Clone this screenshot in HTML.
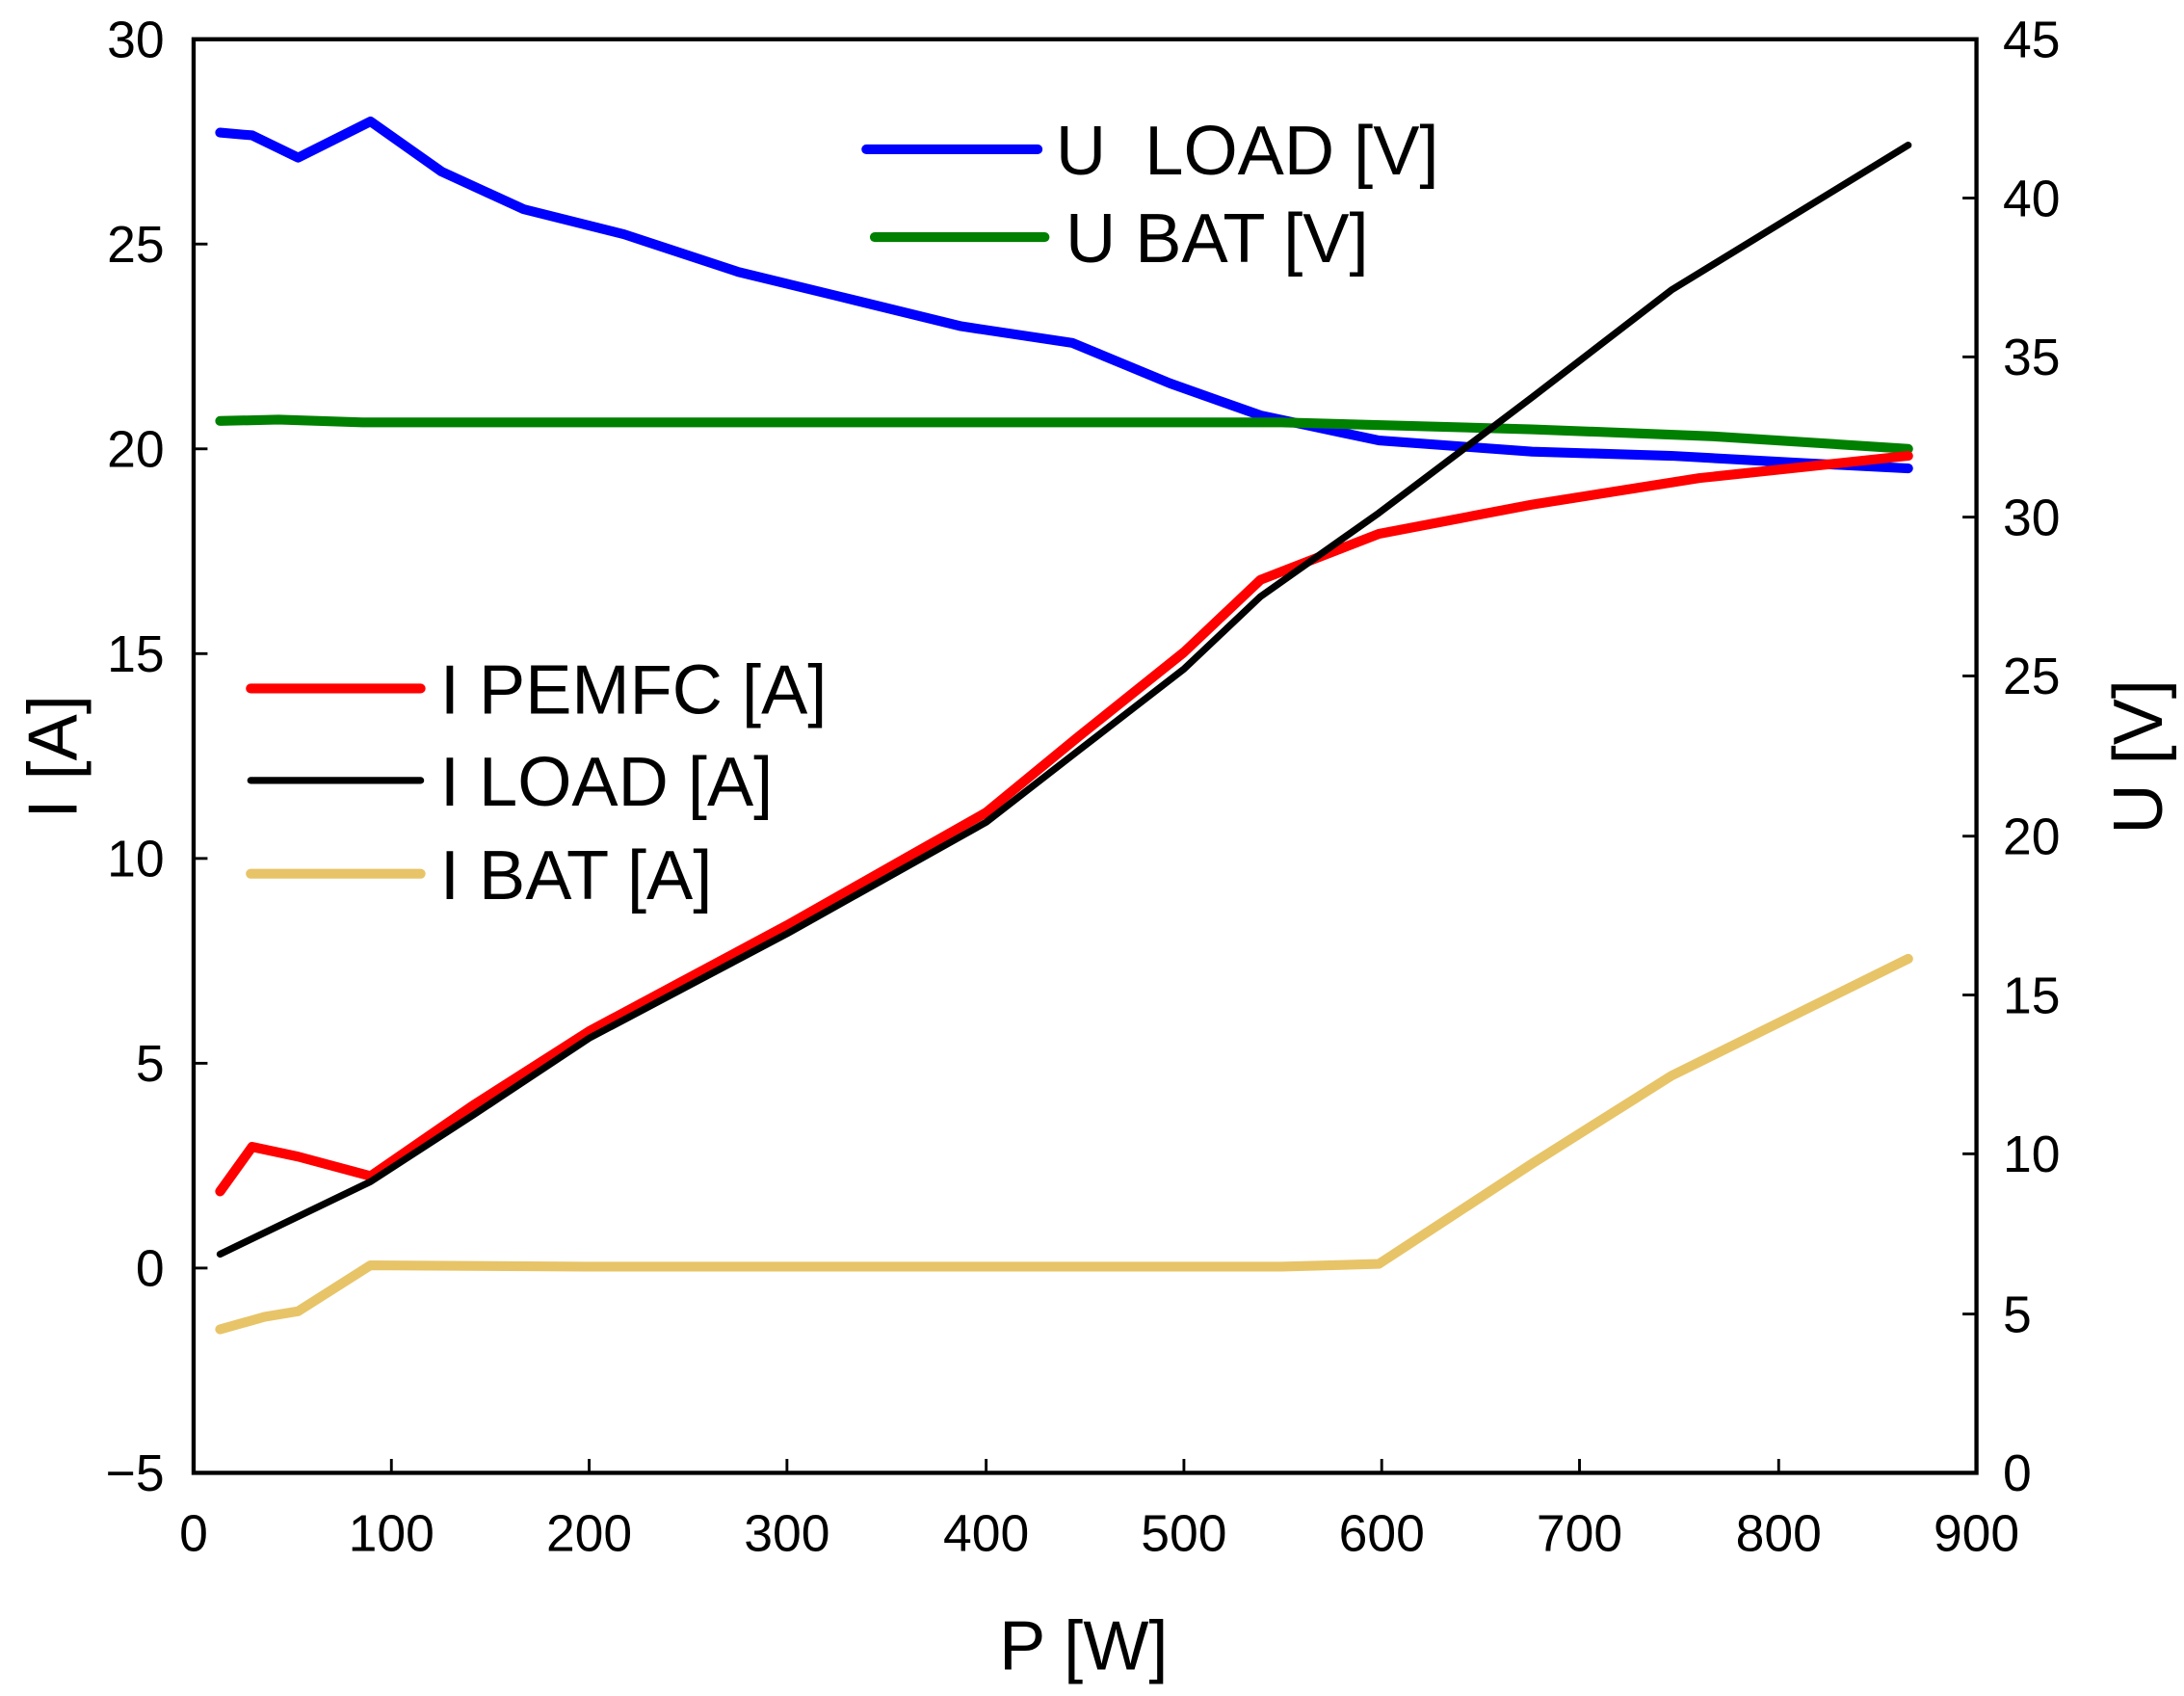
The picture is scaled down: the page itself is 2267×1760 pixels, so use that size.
<!DOCTYPE html>
<html><head><style>html,body{margin:0;padding:0;background:#fff}svg{display:block}</style></head><body>
<svg width="2267" height="1760" viewBox="0 0 1568 1217" xmlns="http://www.w3.org/2000/svg" font-family="Liberation Sans, sans-serif">
<rect width="1568" height="1217" fill="#fff"/>
<g fill="none" stroke-linejoin="round" stroke-linecap="round">
<polyline stroke="#0000ff" stroke-width="7" points="158,95 181,97 214,113 266,87 317,123 376,150 448,168 530,195 600,212 690,234 770,246 840,275 905,298 990,316 1100,324 1200,327 1290,332 1370,336"/>
<polyline stroke="#008000" stroke-width="7" points="158,302 200,301 260,303 600,303 920,303 1100,308 1230,313 1370,322"/>
<polyline stroke="#ff0000" stroke-width="7" points="158,855 181,823 214,830 266,844 340,793 423,740 565,664 708,583 775,528 850,468 905,416 990,383 1100,362 1220,343 1370,327"/>
<polyline stroke="#000" stroke-width="5" points="158,900 266,848 340,800 423,745 565,670 708,590 775,538 850,480 905,428 990,368 1100,285 1200,208 1370,104"/>
<polyline stroke="#e8c468" stroke-width="7" points="158,954 190,945 214,941 266,908 420,909 600,909 920,909 990,907 1100,835 1200,772 1370,688"/>
</g>
<rect x="139" y="28" width="1280" height="1029" fill="none" stroke="#000" stroke-width="3"/>
<g stroke="#000" stroke-width="2">
<line x1="139" y1="175" x2="149" y2="175"/><line x1="139" y1="322" x2="149" y2="322"/><line x1="139" y1="469" x2="149" y2="469"/><line x1="139" y1="616" x2="149" y2="616"/><line x1="139" y1="763" x2="149" y2="763"/><line x1="139" y1="910" x2="149" y2="910"/>
<line x1="1419" y1="142" x2="1409" y2="142"/><line x1="1419" y1="256" x2="1409" y2="256"/><line x1="1419" y1="371" x2="1409" y2="371"/><line x1="1419" y1="485" x2="1409" y2="485"/><line x1="1419" y1="600" x2="1409" y2="600"/><line x1="1419" y1="714" x2="1409" y2="714"/><line x1="1419" y1="828" x2="1409" y2="828"/><line x1="1419" y1="943" x2="1409" y2="943"/>
<line x1="281" y1="1057" x2="281" y2="1047"/><line x1="423" y1="1057" x2="423" y2="1047"/><line x1="565" y1="1057" x2="565" y2="1047"/><line x1="708" y1="1057" x2="708" y2="1047"/><line x1="850" y1="1057" x2="850" y2="1047"/><line x1="992" y1="1057" x2="992" y2="1047"/><line x1="1134" y1="1057" x2="1134" y2="1047"/><line x1="1277" y1="1057" x2="1277" y2="1047"/>
</g>
<g font-size="37" fill="#000" text-anchor="end">
<text x="118" y="41">30</text><text x="118" y="188">25</text><text x="118" y="335">20</text><text x="118" y="482">15</text><text x="118" y="629">10</text><text x="118" y="776">5</text><text x="118" y="923">0</text><text x="118" y="1070">−5</text>
</g>
<g font-size="37" fill="#000" text-anchor="start">
<text x="1438" y="41">45</text><text x="1438" y="155">40</text><text x="1438" y="269">35</text><text x="1438" y="384">30</text><text x="1438" y="498">25</text><text x="1438" y="613">20</text><text x="1438" y="727">15</text><text x="1438" y="841">10</text><text x="1438" y="956">5</text><text x="1438" y="1070">0</text>
</g>
<g font-size="37" fill="#000" text-anchor="middle">
<text x="139" y="1113">0</text><text x="281" y="1113">100</text><text x="423" y="1113">200</text><text x="565" y="1113">300</text><text x="708" y="1113">400</text><text x="850" y="1113">500</text><text x="992" y="1113">600</text><text x="1134" y="1113">700</text><text x="1277" y="1113">800</text><text x="1419" y="1113">900</text>
</g>
<text x="778" y="1198" font-size="50" text-anchor="middle">P [W]</text>
<text transform="translate(55,543) rotate(-90)" font-size="50" text-anchor="middle">I [A]</text>
<text transform="translate(1552,543) rotate(-90)" font-size="50" text-anchor="middle">U [V]</text>
<g stroke-width="7" stroke-linecap="round">
<line x1="622" y1="107" x2="745" y2="107" stroke="#0000ff"/>
<line x1="628" y1="170" x2="750" y2="170" stroke="#008000"/>
<line x1="180" y1="494" x2="302" y2="494" stroke="#ff0000"/>
<line x1="180" y1="560" x2="302" y2="560" stroke="#000" stroke-width="5"/>
<line x1="180" y1="627" x2="302" y2="627" stroke="#e8c468"/>
</g>
<g font-size="50" fill="#000">
<text x="758" y="125">U&#160; LOAD [V]</text>
<text x="765" y="188">U BAT [V]</text>
<text x="316" y="512">I PEMFC [A]</text>
<text x="316" y="578">I LOAD [A]</text>
<text x="316" y="645">I BAT [A]</text>
</g>
</svg>
</body></html>
